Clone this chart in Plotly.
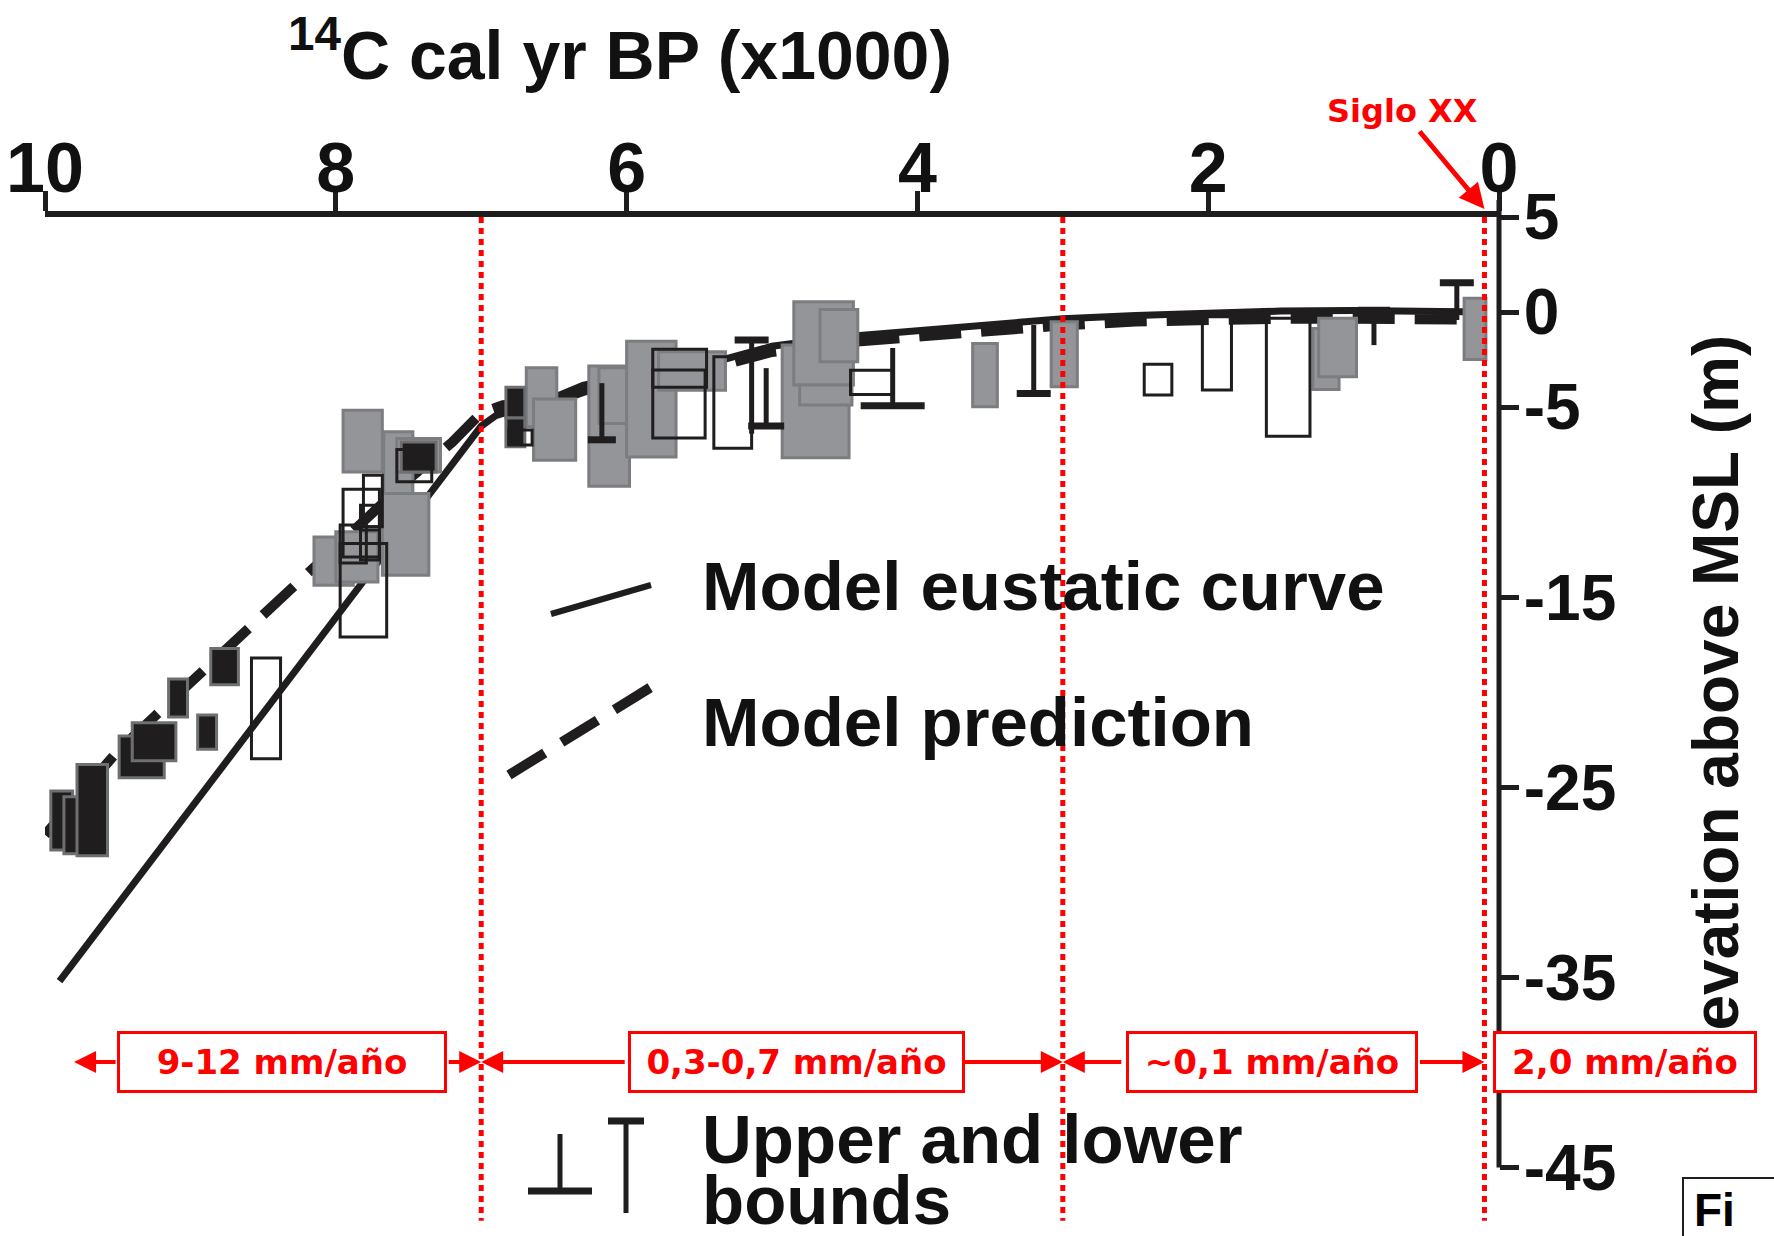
import plotly.graph_objects as go

# ---------------- data ----------------
AGE_TICKS = [10, 8, 6, 4, 2, 0]
ELEV_TICKS = [5, 0, -5, -15, -25, -35, -45]
ELEV_TICK_TEXT = ["5", "0", "-5", "-15", "-25", "-35", "-45"]

# Model eustatic curve (age in kyr BP, elevation in m)
EUSTATIC_AGE = [9.90, 7.00, 6.90, 6.70, 6.50, 6.30, 6.00, 5.50, 5.00, 4.50,
                4.00, 3.50, 3.00, 2.50, 2.00, 1.50, 1.00, 0.50, 0.10]
EUSTATIC_ELEV = [-35.2, -6.0, -5.45, -4.95, -4.5, -3.85, -3.35, -2.85, -1.8, -1.3,
                 -1.0, -0.62, -0.35, -0.18, -0.05, 0.05, 0.08, 0.05, 0.0]

# Model prediction
PRED_AGE = [10.0, 9.5, 9.0, 8.5, 8.0, 7.5, 7.2, 7.1, 7.0, 6.85, 6.7, 6.5, 6.3,
            6.0, 5.5, 5.0, 4.5, 4.0, 3.5, 3.0, 2.5, 2.0, 1.5, 1.0, 0.5, 0.1]
PRED_ELEV = [-27.5, -23.1, -19.5, -15.9, -12.3, -8.8, -6.85, -6.1, -5.3, -4.9, -4.8, -4.7, -4.15,
             -3.6, -3.1, -2.1, -1.6, -1.3, -0.95, -0.7, -0.5, -0.4, -0.35, -0.35, -0.4, -0.4]

# Index points: age range (older, younger) and elevation range (top, bottom)
GRAY_AGE_OLD = [7.95, 7.67, 7.58, 8.15, 8.00, 7.68, 6.69, 6.64, 6.26, 6.19, 6.00,
                5.78, 4.93, 4.85, 4.81, 4.67, 3.62, 3.08, 1.28, 1.24, 0.24]
GRAY_AGE_YOUNG = [7.68, 7.47, 7.28, 7.88, 7.71, 7.36, 6.48, 6.35, 5.98, 5.98, 5.66,
                  5.32, 4.47, 4.44, 4.45, 4.41, 3.45, 2.90, 1.10, 0.98, 0.09]
GRAY_TOP = [-5.16, -6.30, -6.65, -11.83, -11.56, -9.54, -2.93, -4.58, -2.84, -2.93, -1.53,
            -2.09, -1.74, 0.54, -3.84, 0.14, -1.65, -0.51, -0.86, -0.33, 0.72]
GRAY_BOTTOM = [-8.41, -10.86, -8.41, -14.37, -14.20, -13.84, -6.04, -7.79, -9.16, -5.86, -7.62,
               -4.11, -7.67, -3.84, -4.89, -2.62, -4.98, -3.93, -4.07, -3.40, -2.49]

BLACK_AGE_OLD = [9.96, 9.87, 9.78, 9.49, 9.40, 9.15, 8.95, 8.86, 7.55, 6.83, 6.83]
BLACK_AGE_YOUNG = [9.81, 9.77, 9.57, 9.18, 9.10, 9.02, 8.82, 8.67, 7.31, 6.70, 6.70]
BLACK_TOP = [-25.2, -25.5, -23.8, -22.3, -21.6, -19.3, -21.2, -17.7, -6.83, -3.96, -5.58]
BLACK_BOTTOM = [-28.3, -28.5, -28.6, -24.5, -23.6, -21.3, -23.0, -19.6, -8.41, -5.58, -7.09]

OPEN_AGE_OLD = [8.58, 7.58, 7.81, 7.95, 7.83, 7.97, 7.97, 7.83, 6.81, 5.82, 5.82,
                5.40, 4.46, 2.44, 2.04, 1.60]
OPEN_AGE_YOUNG = [8.38, 7.34, 7.68, 7.70, 7.70, 7.79, 7.65, 7.70, 6.65, 5.45, 5.46,
                  5.14, 4.17, 2.25, 1.84, 1.30]
OPEN_TOP = [-18.2, -7.23, -8.58, -9.32, -10.16, -11.20, -12.17, -11.47, -6.20, -1.96, -3.05,
            -2.35, -3.06, -2.74, -0.25, -0.33]
OPEN_BOTTOM = [-23.5, -8.93, -11.30, -12.88, -11.30, -13.20, -17.09, -13.05, -7.00, -3.95, -6.62,
               -7.17, -4.34, -4.37, -4.10, -6.53]

# Limiting data: "T" = bar on top, "⊥" = bar at the bottom
BOUND_AGE = [6.17, 5.14, 5.04, 4.17, 3.20, 0.86, 0.29]
BOUND_TOP = [-3.74, -1.47, -2.95, -1.89, -0.68, 0.10, 1.54]
BOUND_BOTTOM = [-6.72, -6.40, -6.00, -4.93, -4.28, -1.74, -0.42]
BOUND_KIND = ["⊥", "T", "⊥", "⊥", "⊥", "T", "T"]

# Period limits (kyr BP) and sea-level rise rates
PERIOD_LIMITS = [7.0, 3.0, 0.1]
RATE_LABELS = ["9-12 mm/año", "0,3-0,7 mm/año", "~0,1 mm/año", "2,0 mm/año"]

# ---------------- layout / style ----------------
W, H = 1774, 1236
PL, PR, PT, PB = 45, 1499, 217, 1234          # plot area in pixels
X_RANGE = [10, 0]
Y_RANGE = [-48.5, 5]

INK = "#1f1d1e"
TEXT = "#111111"
GRAY_FILL = "#949598"
GRAY_EDGE = "#7c7d80"
BLACK_EDGE = "#6e6f71"
RED = "#ff0000"
SANS = "Liberation Sans, Arial, sans-serif"
RED_FONT = "DejaVu Sans, Verdana, sans-serif"


def px_x(px):
    return (px - PL) / (PR - PL)


def px_y(py):
    return (PB - py) / (PB - PT)


def bold(size, color=TEXT, family=SANS):
    return dict(family=family, size=size, color=color, weight="bold")


fig = go.Figure()

# model curves
fig.add_trace(go.Scatter(x=PRED_AGE, y=PRED_ELEV, mode="lines",
                         line=dict(color=INK, width=10, dash="42px,20px"),
                         hoverinfo="skip", showlegend=False))
fig.add_trace(go.Scatter(x=EUSTATIC_AGE, y=EUSTATIC_ELEV, mode="lines",
                         line=dict(color=INK, width=7),
                         hoverinfo="skip", showlegend=False))

shapes = []


def box(a0, a1, top, bot, fill, edge, width):
    return dict(type="rect", xref="x", yref="y", x0=a0, x1=a1, y0=bot, y1=top,
                fillcolor=fill, line=dict(color=edge, width=width), layer="above")


for a0, a1, t, b in zip(GRAY_AGE_OLD, GRAY_AGE_YOUNG, GRAY_TOP, GRAY_BOTTOM):
    shapes.append(box(a0, a1, t, b, GRAY_FILL, GRAY_EDGE, 3))
for a0, a1, t, b in zip(BLACK_AGE_OLD, BLACK_AGE_YOUNG, BLACK_TOP, BLACK_BOTTOM):
    shapes.append(box(a0, a1, t, b, INK, BLACK_EDGE, 3))
for a0, a1, t, b in zip(OPEN_AGE_OLD, OPEN_AGE_YOUNG, OPEN_TOP, OPEN_BOTTOM):
    shapes.append(box(a0, a1, t, b, "rgba(0,0,0,0)", INK, 3))

BAR_HALF_PX = [14, 17, 18, 32, 17, 16, 17]
for age, top, bot, kind, hw in zip(BOUND_AGE, BOUND_TOP, BOUND_BOTTOM, BOUND_KIND, BAR_HALF_PX):
    shapes.append(dict(type="line", xref="x", yref="y", x0=age, x1=age, y0=bot, y1=top,
                       line=dict(color=INK, width=5), layer="above"))
    bar_y = top if kind == "T" else bot
    shapes.append(dict(type="line", xref="x", yref="y", xsizemode="pixel", xanchor=age,
                       x0=-hw, x1=hw, y0=bar_y, y1=bar_y,
                       line=dict(color=INK, width=7), layer="above"))

# period limits
for age in PERIOD_LIMITS:
    shapes.append(dict(type="line", xref="x", yref="y", x0=age, x1=age, y0=5, y1=-47.8,
                       line=dict(color=RED, width=5, dash="6px,5px"), layer="above"))

# right-hand elevation axis line, ending at -45
y_bottom_frac = (-45 - Y_RANGE[0]) / (Y_RANGE[1] - Y_RANGE[0])
shapes.append(dict(type="line", xref="paper", yref="paper", x0=1, x1=1,
                   y0=y_bottom_frac, y1=px_y(200), line=dict(color=INK, width=5), layer="above"))

# legend glyphs
shapes.append(dict(type="line", xref="paper", yref="paper",
                   x0=px_x(551), y0=px_y(614), x1=px_x(651), y1=px_y(585),
                   line=dict(color=INK, width=6)))
shapes.append(dict(type="line", xref="paper", yref="paper",
                   x0=px_x(509), y0=px_y(775), x1=px_x(656), y1=px_y(684),
                   line=dict(color=INK, width=10, dash="42px,20px")))
shapes.append(dict(type="line", xref="paper", yref="paper",
                   x0=px_x(560), y0=px_y(1134), x1=px_x(560), y1=px_y(1191),
                   line=dict(color=INK, width=5)))
shapes.append(dict(type="line", xref="paper", yref="paper",
                   x0=px_x(528), y0=px_y(1191), x1=px_x(592), y1=px_y(1191),
                   line=dict(color=INK, width=7)))
shapes.append(dict(type="line", xref="paper", yref="paper",
                   x0=px_x(626), y0=px_y(1118), x1=px_x(626), y1=px_y(1213),
                   line=dict(color=INK, width=5)))
shapes.append(dict(type="line", xref="paper", yref="paper",
                   x0=px_x(608), y0=px_y(1121), x1=px_x(644), y1=px_y(1121),
                   line=dict(color=INK, width=7)))

# corner fragment box
shapes.append(dict(type="rect", xref="paper", yref="paper",
                   x0=px_x(1683), y0=px_y(1240), x1=px_x(1780), y1=px_y(1178),
                   line=dict(color=INK, width=2), fillcolor="white"))

annotations = []

# axis titles
annotations.append(dict(text="<sup>14</sup>C cal yr BP (x1000)", xref="paper", yref="paper",
                        x=px_x(620), y=px_y(50), xanchor="center", yanchor="middle",
                        showarrow=False, font=bold(68)))
annotations.append(dict(text="Elevation above MSL (m)", xref="paper", yref="paper",
                        x=px_x(1716), y=px_y(713), xanchor="center", yanchor="middle",
                        textangle=-90, showarrow=False, font=bold(64)))

# legend text
annotations.append(dict(text="Model eustatic curve", xref="paper", yref="paper",
                        x=px_x(700), y=px_y(586), xanchor="left", yanchor="middle",
                        showarrow=False, font=bold(69)))
annotations.append(dict(text="Model prediction", xref="paper", yref="paper",
                        x=px_x(700), y=px_y(722), xanchor="left", yanchor="middle",
                        showarrow=False, font=bold(69)))
annotations.append(dict(text="Upper and lower", xref="paper", yref="paper",
                        x=px_x(700), y=px_y(1139), xanchor="left", yanchor="middle",
                        showarrow=False, font=bold(69)))
annotations.append(dict(text="bounds", xref="paper", yref="paper",
                        x=px_x(700), y=px_y(1200), xanchor="left", yanchor="middle",
                        showarrow=False, font=bold(69)))

annotations.append(dict(text="Fi", xref="paper", yref="paper",
                        x=px_x(1692), y=px_y(1182), xanchor="left", yanchor="top",
                        showarrow=False, font=dict(family=SANS, size=46, color="#000", weight=900)))

# rate arrows: (head age, tail offset in px)
ARROW_Y = -39.45
ARROWS = [(9.80, 43), (PERIOD_LIMITS[0], -34), (PERIOD_LIMITS[0], 145),
          (PERIOD_LIMITS[1], -102), (PERIOD_LIMITS[1], 60), (PERIOD_LIMITS[2], -66)]
for head, off in ARROWS:
    annotations.append(dict(text="", x=head, y=ARROW_Y, xref="x", yref="y",
                            ax=off, ay=0, axref="pixel", ayref="pixel",
                            showarrow=True, arrowhead=2, arrowsize=1.1, arrowwidth=4,
                            arrowcolor=RED, standoff=0, startstandoff=0))

# rate boxes (pixel centre, width)
RATE_BOXES = [(281.5, 330), (796.5, 337), (1272, 292), (1625, 264)]
for label, (cx, bw) in zip(RATE_LABELS, RATE_BOXES):
    annotations.append(dict(text=label, xref="paper", yref="paper",
                            x=px_x(cx), y=px_y(1062), xanchor="center", yanchor="middle",
                            width=bw - 6, height=56, align="center", valign="middle",
                            showarrow=False, bgcolor="white", bordercolor=RED,
                            borderwidth=3, borderpad=0,
                            font=bold(34, RED, RED_FONT)))

# Siglo XX pointer
annotations.append(dict(text="Siglo XX", x=PERIOD_LIMITS[2], y=px_y(209),
                        xref="x", yref="paper", ax=-82, ay=-98, axref="pixel", ayref="pixel",
                        showarrow=True, arrowhead=2, arrowsize=1.0, arrowwidth=5,
                        arrowcolor=RED, standoff=0,
                        font=bold(32, RED, RED_FONT)))

fig.update_layout(
    width=W, height=H,
    margin=dict(l=PL, r=W - PR, t=PT, b=H - PB, pad=0),
    paper_bgcolor="white", plot_bgcolor="white",
    showlegend=False,
    shapes=shapes, annotations=annotations,
    xaxis=dict(range=X_RANGE, side="top", tickmode="array", tickvals=AGE_TICKS,
               ticktext=[str(v) for v in AGE_TICKS],
               ticks="outside", ticklen=20, tickwidth=5, tickcolor=INK,
               showline=True, linewidth=6, linecolor=INK,
               showgrid=False, zeroline=False, ticklabelstandoff=-29,
               tickfont=bold(70)),
    yaxis=dict(range=Y_RANGE, side="right", tickmode="array", tickvals=ELEV_TICKS,
               ticktext=ELEV_TICK_TEXT,
               ticks="outside", ticklen=19, tickwidth=5, tickcolor=INK,
               showline=False, showgrid=False, zeroline=False, ticklabelstandoff=-8,
               tickfont=bold(64)),
)

fig.write_html("out.html")
